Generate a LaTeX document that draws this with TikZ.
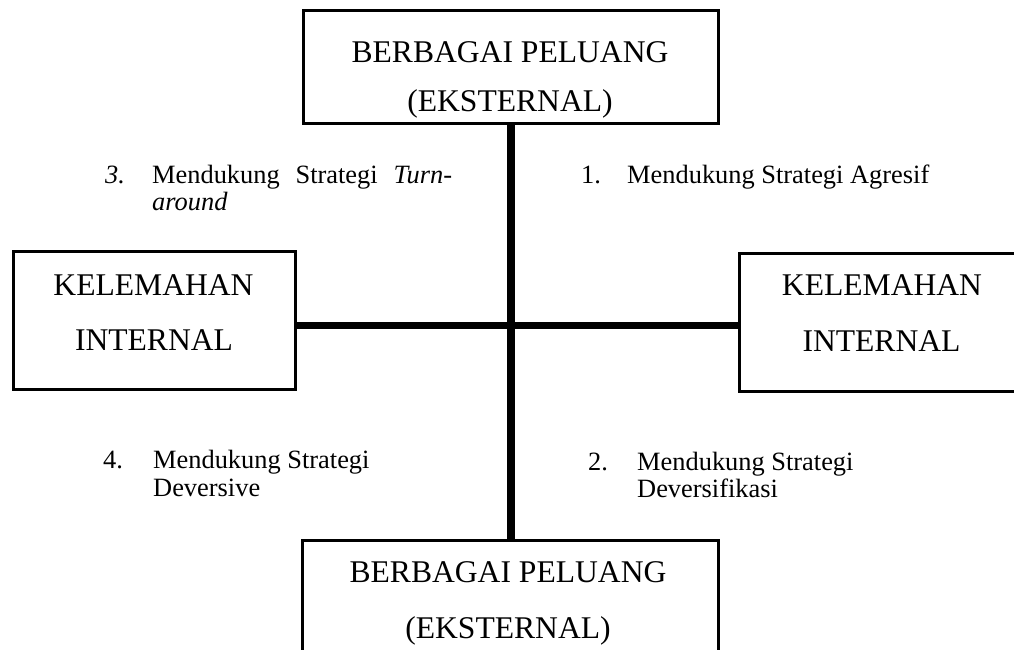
\documentclass[tikz,border=0pt]{standalone}
\usepackage{fontspec}
\setmainfont{Liberation Serif}
\begin{document}
\begin{tikzpicture}[x=1pt,y=-1pt,
  box/.style={draw,line width=3pt,inner sep=0pt,outer sep=0pt,rectangle},
  bigtxt/.style={anchor=base,inner sep=0pt,font=\fontsize{31.6}{38}\selectfont},
  smalltxt/.style={anchor=base west,inner sep=0pt,font=\fontsize{26.4}{28}\selectfont},
  axis/.style={line width=7.5pt}]
\useasboundingbox (0,0) rectangle (1014,650);
\clip (0,0) rectangle (1014,650);
% boxes
\node[box,minimum width=414.5pt,minimum height=113pt] (top) at (510.75,67.5) {};
\node[box,minimum width=282pt,minimum height=137.5pt] (left) at (154.5,320.25) {};
\node[box,minimum width=290.5pt,minimum height=138pt] (right) at (884.75,322.5) {};
\node[box,minimum width=415.5pt,minimum height=179.5pt] (bottom) at (510.25,630.25) {};
\coordinate (c) at (511,325.5);
% axes
\draw[axis] (top.south) -- (top.south |- bottom.north);
\draw[axis] (left.east |- c) -- (right.west |- c);
% box texts
\node[bigtxt] (t1) at (510,63) {BERBAGAI PELUANG};
\node[bigtxt] (t2) at (510,112) {(EKSTERNAL)};
\node[bigtxt] (l1) at (153.5,295) {KELEMAHAN};
\node[bigtxt] (l2) at (154,350) {INTERNAL};
\node[bigtxt] (r1) at (882,295) {KELEMAHAN};
\node[bigtxt] (r2) at (881.5,351) {INTERNAL};
\node[bigtxt] (b1) at (508,582) {BERBAGAI PELUANG};
\node[bigtxt] (b2) at (508,638) {(EKSTERNAL)};
% quadrant labels
\node[smalltxt] (n3) at (105,183) {\textit{3.}};
\node[smalltxt] (q3a) at (152,183) {\hbox to 300pt{Mendukung\hfill Strategi\hfill\textit{Turn-}}};
\node[smalltxt] (q3b) at (152,210) {\textit{around}};
\node[smalltxt] (n1) at (581,183) {1.};
\node[smalltxt] (q1) at (627,183) {Mendukung Strategi Agresif};
\node[smalltxt] (n4) at (103,468) {4.};
\node[smalltxt] (q4a) at (153,468) {Mendukung Strategi};
\node[smalltxt] (q4b) at (153,496) {Deversive};
\node[smalltxt] (n2) at (588,470) {2.};
\node[smalltxt] (q2a) at (637,470) {Mendukung Strategi};
\node[smalltxt] (q2b) at (637,497) {Deversifikasi};
\end{tikzpicture}
\end{document}
